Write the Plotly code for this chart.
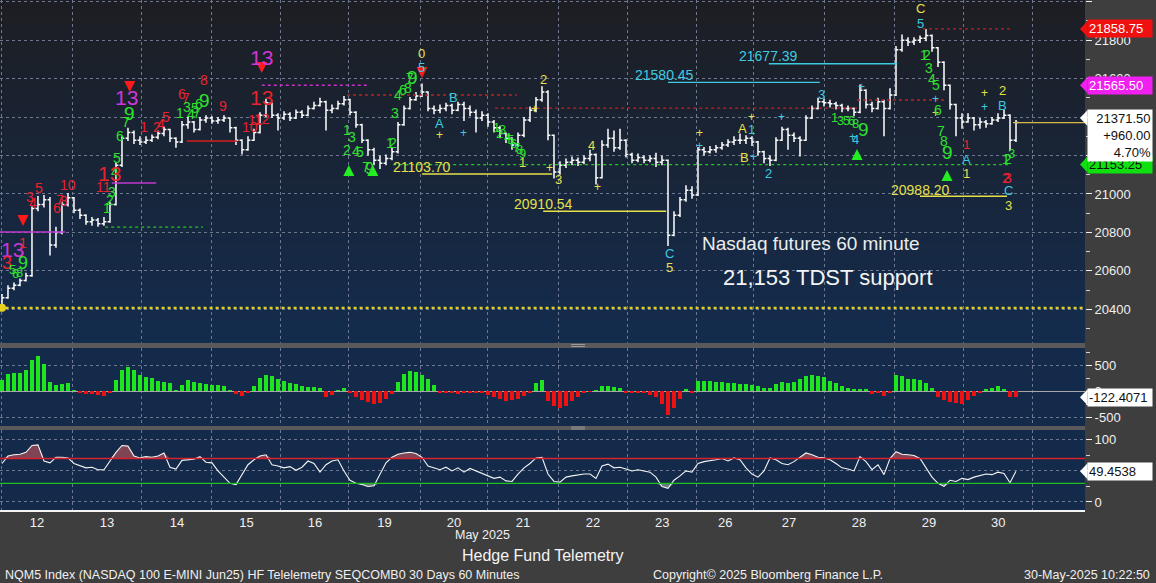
import plotly.graph_objects as go

# ------------------------------------------------------------------ data
# hourly bars of NQM5 (sampled), read off the chart
bar_close = [20460, 20510, 20525, 20550, 20575, 20925, 20945, 20970, 20735, 20800,
             20945, 20980, 20915, 20890, 20855, 20865, 20845, 20855, 20945, 21150,
             21290, 21320, 21280, 21270, 21280, 21295, 21315, 21335, 21290, 21270,
             21360, 21375, 21335, 21385, 21395, 21380, 21385, 21395, 21345, 21280,
             21230, 21280, 21320, 21410, 21475, 21410, 21395, 21415, 21395, 21425,
             21410, 21445, 21460, 21480, 21435, 21445, 21470, 21490, 21425, 21360,
             21280, 21230, 21175, 21160, 21185, 21220, 21360, 21445, 21490, 21510,
             21530, 21445, 21435, 21445, 21460, 21435, 21465, 21445, 21425, 21395,
             21410, 21375, 21345, 21315, 21290, 21255, 21305, 21385, 21435, 21490,
             21530, 21305, 21115, 21150, 21165, 21175, 21165, 21185, 21205, 21085,
             21255, 21290, 21240, 21280, 21205, 21175, 21190, 21175, 21185, 21165,
             21175, 20785, 20890, 20970, 21020, 20995, 21230, 21220, 21230, 21240,
             21255, 21270, 21280, 21280, 21290, 21270, 21220, 21185, 21175, 21280,
             21335, 21305, 21290, 21280, 21395, 21445, 21480, 21475, 21470, 21460,
             21445, 21445, 21425, 21540, 21465, 21445, 21480, 21445, 21515, 21750,
             21800, 21790, 21800, 21810, 21825, 21760, 21685, 21565, 21465, 21395,
             21375, 21395, 21360, 21375, 21365, 21385, 21395, 21410, 21280, 21371.5]
bar_high = [20480, 20525, 20540, 20560, 20590, 20935, 20990, 20995, 20985, 20830,
            20960, 21005, 20985, 20925, 20895, 20880, 20875, 20880, 20960, 21165,
            21300, 21345, 21330, 21300, 21300, 21310, 21330, 21350, 21340, 21295,
            21380, 21400, 21380, 21400, 21410, 21405, 21400, 21410, 21395, 21350,
            21285, 21300, 21340, 21425, 21495, 21475, 21420, 21430, 21425, 21440,
            21435, 21460, 21480, 21500, 21485, 21465, 21485, 21510, 21495, 21430,
            21365, 21285, 21240, 21200, 21205, 21240, 21375, 21460, 21505, 21530,
            21575, 21535, 21460, 21465, 21475, 21470, 21480, 21480, 21460, 21440,
            21430, 21420, 21385, 21355, 21320, 21295, 21320, 21400, 21455, 21505,
            21560, 21540, 21310, 21170, 21185, 21195, 21190, 21200, 21230, 21210,
            21280, 21340, 21330, 21340, 21285, 21215, 21210, 21200, 21200, 21215,
            21200, 21180, 20910, 20985, 21045, 21040, 21245, 21245, 21250, 21255,
            21270, 21285, 21300, 21315, 21305, 21300, 21275, 21225, 21200, 21295,
            21350, 21345, 21320, 21300, 21410, 21460, 21500, 21495, 21490, 21480,
            21470, 21460, 21450, 21570, 21545, 21480, 21500, 21490, 21550, 21770,
            21830, 21815, 21815, 21825, 21858.75, 21830, 21765, 21690, 21570, 21470,
            21420, 21420, 21400, 21395, 21385, 21400, 21420, 21440, 21415, 21385]
bar_low = [20405, 20455, 20500, 20520, 20545, 20570, 20910, 20930, 20680, 20720,
           20790, 20935, 20900, 20870, 20840, 20835, 20830, 20835, 20850, 20940,
           21140, 21275, 21260, 21255, 21260, 21270, 21285, 21300, 21270, 21240,
           21265, 21340, 21320, 21330, 21370, 21365, 21365, 21375, 21320, 21255,
           21205, 21225, 21275, 21315, 21400, 21395, 21330, 21385, 21380, 21390,
           21395, 21405, 21440, 21455, 21330, 21420, 21440, 21460, 21410, 21345,
           21265, 21200, 21150, 21130, 21150, 21175, 21210, 21355, 21440, 21485,
           21505, 21430, 21415, 21420, 21430, 21415, 21430, 21380, 21405, 21320,
           21380, 21350, 21320, 21290, 21265, 21230, 21245, 21295, 21375, 21425,
           21480, 21280, 21080, 21100, 21135, 21150, 21145, 21155, 21170, 21050,
           21080, 21240, 21220, 21230, 21190, 21160, 21165, 21160, 21165, 21140,
           21150, 20730, 20780, 20880, 20960, 20975, 20990, 21200, 21210, 21215,
           21230, 21245, 21255, 21260, 21260, 21250, 21200, 21160, 21145, 21170,
           21275, 21230, 21270, 21195, 21275, 21390, 21440, 21455, 21450, 21440,
           21425, 21430, 21405, 21420, 21445, 21425, 21440, 21300, 21440, 21510,
           21740, 21770, 21775, 21785, 21795, 21740, 21660, 21540, 21440, 21300,
           21340, 21370, 21330, 21340, 21345, 21360, 21375, 21390, 21225, 21270]
first_open = 20420

# momentum histogram (middle panel)
momentum = [215, 330, 350, 350, 400, 590, 670, 520, 180, 120,
            140, 150, 5, -30, -50, -60, -70, -90, -40, 215,
            400, 470, 400, 305, 275, 245, 185, 165, 150, 10,
            120, 215, 180, 150, 130, 120, 110, 100, 5, -60,
            -90, -40, 90, 245, 305, 280, 240, 200, 160, 140,
            90, 80, 70, 60, -120, -80, 10, 60, -40, -110,
            -170, -215, -245, -230, -150, -60, 180, 330, 380, 360,
            310, 240, 120, -20, -30, -40, -50, -40, -30, -20,
            -40, -80, -120, -160, -185, -180, -150, -100, -40, 150,
            215, -200, -290, -335, -280, -200, -110, -30, -10, 10,
            90, 100, 80, 60, -20, -30, -20, -40, -70, -120,
            -250, -460, -320, -150, 40, -30, 200, 200, 195, 180,
            170, 160, 150, 140, 130, 110, 90, 60, 60, 140,
            165, 150, 180, 230, 280, 305, 290, 260, 200, 150,
            100, 50, 30, 40, 20, -60, -40, -100, -40, 300,
            280, 240, 230, 220, 160, 60, -120, -180, -220, -225,
            -245, -180, -100, -40, 20, 50, 90, 40, -115, -122.4071]

# oscillator (bottom panel)
oscillator = [62, 74, 76, 77, 80, 91, 92, 66, 63, 72,
              72, 71, 62, 58, 55, 56, 52, 52, 66, 80,
              91, 90, 74, 71, 73, 72, 74, 79, 56, 53,
              67, 68, 69, 73, 64, 63, 50, 40, 30, 28,
              45, 60, 68, 74, 76, 60, 58, 55, 57, 51,
              56, 66, 62, 48, 60, 66, 68, 50, 35, 30,
              28, 25, 26, 45, 63, 72, 77, 79, 80, 78,
              72, 58, 55, 52, 56, 50, 55, 48, 54, 50,
              45, 42, 38, 40, 34, 33, 45, 55, 62, 71,
              72, 45, 33, 32, 40, 42, 44, 45, 45, 38,
              58, 61, 55, 56, 53, 50, 52, 50, 48, 40,
              25, 22, 35, 42, 50, 48, 62, 65, 66, 68,
              70, 66, 71, 68, 55, 45, 40, 50, 71, 68,
              62, 60, 65, 72, 79, 76, 72, 71, 68, 62,
              55, 53, 50, 73, 65, 52, 60, 44, 70, 81,
              77, 76, 75, 70, 55, 40, 30, 25, 35, 33,
              38, 36, 40, 42, 45, 44, 48, 46, 31, 49.4538]
osc_upper, osc_lower = 70, 30

# sessions
day_labels = ["12", "13", "14", "15", "16", "19", "20", "21", "22", "23",
              "26", "27", "28", "29", "30"]
day_start_bar = [0, 11.67, 23.33, 35, 46.5, 57.8, 69.7, 81, 92.7, 104.3,
                 115.8, 125.3, 137, 148.7, 160.3, 171.8]

# horizontal study levels: value, first bar, last bar
level_value = [20408, 20828, 20802, 21057, 21276, 21565.5, 21515, 21447, 21489,
               21858.75, 21580.45, 21677.39, 21103.70, 20910.54, 20988.20, 21153.25, 21371.5]
level_from = [-0.4, 17.2, -0.4, 18.3, 30.8, 43.3, 57.5, 82.2, 142.5,
              153.5, 111.0, 127.8, 70.0, 90.2, 153.0, 65.2, 168.5]
level_to = [180.5, 33.5, 10.5, 25.7, 39.2, 61.0, 85.8, 142.5, 157.5,
            168.0, 136.3, 149.2, 91.7, 110.7, 167.5, 167.7, 180.5]
level_kind = ["ydot", "gdot", "msol", "msol", "rsol", "mdot", "rdot", "rdot", "rdot",
              "rdot", "csol", "csol", "ysol", "ysol", "ysol", "gdot", "last"]

# labelled levels
level_label_text = ["21103.70", "20910.54", "21580.45", "21677.39", "20988.20"]
level_label_bar = [70.0, 90.2, 110.5, 127.8, 153.0]
level_label_price = [21140, 20948, 21619, 21718, 21021]
level_label_kind = ["y", "y", "c", "c", "y"]

# TD sequential / wave counts: text, colour group, bar, price, size
td_marks = [
    ("13", "m", 1.7, 20710, 21), ("3", "r", 0.8, 20641, 18), ("9", "g", 3.5, 20641, 18),
    ("5", "g", 1.7, 20605, 13), ("6", "g", 2.3, 20589, 13), ("8", "g", 3.0, 20594, 13),
    ("1", "r", 3.5, 20745, 14), ("3", "r", 4.7, 20984, 14), ("4", "r", 5.2, 20953, 14), ("5", "r", 6.2, 21031, 14),
    ("6", "r", 9.2, 20927, 14), ("7", "r", 9.7, 20969, 14), ("8", "r", 10.3, 20964, 14), ("10", "r", 11.0, 21047, 14),
    ("1", "g", 17.5, 20927, 14), ("2", "g", 18.0, 20969, 14), ("3", "g", 18.3, 21010, 14),
    ("4", "g", 18.8, 21114, 14), ("5", "g", 19.2, 21187, 14),
    ("13", "r", 18.0, 21109, 21), ("11", "r", 17.0, 21036, 14),
    ("13", "m", 20.8, 21504, 21), ("9", "g", 21.2, 21421, 19), ("7", "g", 20.7, 21374, 14), ("6", "g", 19.7, 21302, 14),
    ("1", "r", 23.7, 21348, 14), ("2", "r", 25.8, 21348, 14), ("4", "r", 26.5, 21364, 14), ("5", "r", 27.3, 21400, 14),
    ("6", "r", 30.0, 21520, 14), ("7", "r", 30.7, 21499, 14), ("8", "r", 33.7, 21593, 14), ("9", "r", 36.8, 21458, 14),
    ("9", "g", 33.7, 21484, 19), ("1", "g", 29.7, 21421, 14), ("3", "g", 30.8, 21452, 14), ("4", "g", 31.5, 21416, 14),
    ("5", "g", 32.2, 21447, 14), ("6", "g", 32.8, 21468, 14), ("7", "g", 32.5, 21421, 14),
    ("10", "r", 41.3, 21348, 14), ("11", "r", 42.2, 21385, 14), ("12", "r", 43.3, 21390, 14),
    ("13", "r", 43.3, 21504, 21), ("13", "m", 43.3, 21712, 21),
    ("1", "g", 57.5, 21333, 14), ("3", "g", 58.3, 21296, 14), ("2", "g", 57.5, 21229, 14),
    ("4", "g", 59.0, 21224, 14), ("5", "g", 59.7, 21218, 14),
    ("7", "g", 60.7, 21140, 14), ("9", "g", 61.3, 21135, 16),
    ("1", "g", 64.7, 21265, 14), ("2", "g", 65.2, 21265, 14), ("3", "g", 65.5, 21421, 14), ("4", "g", 66.0, 21515, 14),
    ("6", "g", 66.8, 21541, 14), ("8", "g", 67.7, 21551, 14), ("7", "g", 68.0, 21603, 14), ("9", "g", 68.5, 21608, 19),
    ("0", "y", 70.0, 21733, 13), ("5", "c", 70.0, 21660, 13),
    ("A", "c", 73.0, 21369, 13), ("+", "y", 73.0, 21307, 12), ("B", "c", 75.3, 21504, 13), ("+", "c", 77.0, 21317, 12),
    ("1", "g", 82.5, 21348, 13), ("2", "g", 83.0, 21317, 13), ("3", "g", 83.5, 21333, 13), ("4", "g", 84.2, 21296, 13),
    ("5", "g", 84.7, 21281, 13), ("6", "g", 85.2, 21265, 13), ("7", "g", 85.8, 21244, 13), ("8", "g", 86.2, 21229, 13),
    ("9", "g", 86.7, 21213, 13),
    ("1", "y", 86.7, 21166, 13), ("2", "y", 90.2, 21593, 13), ("+", "y", 88.7, 21442, 12), ("+", "y", 91.2, 21135, 12),
    ("3", "y", 92.7, 21078, 13), ("4", "y", 98.2, 21250, 13), ("+", "y", 99.2, 21036, 12),
    ("C", "c", 111.2, 20693, 13), ("5", "y", 111.2, 20620, 13),
    ("+", "y", 116.3, 21317, 12), ("+", "c", 116.3, 21250, 12),
    ("A", "y", 123.5, 21343, 13), ("+", "y", 125.0, 21400, 12), ("1", "c", 125.0, 21333, 13), ("B", "y", 123.8, 21192, 13),
    ("+", "c", 125.3, 21192, 12), ("2", "c", 127.8, 21109, 13), ("+", "c", 130.0, 21400, 12),
    ("3", "c", 136.5, 21515, 13),
    ("1", "g", 138.8, 21400, 13), ("3", "g", 139.7, 21380, 13), ("5", "g", 140.7, 21380, 13), ("6", "g", 141.5, 21380, 13),
    ("8", "g", 142.3, 21369, 13), ("9", "g", 143.5, 21333, 19),
    ("+", "c", 141.7, 21296, 12), ("4", "c", 142.3, 21286, 13), ("+", "c", 143.2, 21556, 12),
    ("C", "y", 153.0, 21967, 13), ("5", "c", 153.0, 21889, 13),
    ("1", "g", 153.6, 21723, 14), ("2", "g", 154.1, 21723, 14), ("3", "g", 154.5, 21655, 14), ("4", "g", 155.0, 21598, 14),
    ("5", "g", 155.7, 21567, 14),
    ("+", "c", 155.5, 21494, 12), ("+", "y", 155.5, 21421, 12), ("6", "g", 156.0, 21437, 14), ("7", "g", 156.5, 21328, 14),
    ("8", "g", 157.0, 21276, 14), ("9", "g", 157.5, 21218, 19),
    ("1", "r", 160.8, 21260, 13), ("A", "c", 160.8, 21182, 13), ("1", "y", 160.8, 21109, 13),
    ("+", "y", 163.8, 21525, 12), ("+", "c", 163.8, 21452, 12), ("2", "y", 166.7, 21536, 13), ("B", "c", 166.7, 21458, 13),
    ("1", "g", 167.3, 21182, 14), ("2", "g", 167.7, 21182, 14), ("3", "g", 168.2, 21213, 13),
    ("2", "r", 167.3, 21083, 14), ("3", "r", 167.7, 21083, 14),
    ("C", "c", 167.7, 21016, 13), ("3", "y", 167.7, 20938, 13),
]
arrow_bar = [3.5, 21.3, 43.3, 70.0, 57.8, 61.8, 142.5, 157.5]
arrow_price = [20834, 21530, 21629, 21603, 21151, 21151, 21234, 21125]
arrow_dir = ["down", "down", "down", "down", "up", "up", "up", "up"]

# ------------------------------------------------------------------ style
W, H = 1156, 583
FONT = "Liberation Sans"
COL = {"r": "#e8232d", "g": "#2ee02e", "m": "#cf37d6", "y": "#e6e04a", "c": "#3ecbe0"}
LEVEL_STYLE = {
    "ydot": ("#e6d21e", "dot", 2.2), "gdot": ("#25c425", "dot", 1.3), "msol": ("#c238d0", "solid", 1.4),
    "rsol": ("#d41e1e", "solid", 1.4), "mdot": ("#cc30cc", "dot", 1.3), "rdot": ("#c81e1e", "dot", 1.3),
    "csol": ("#3ecbe0", "solid", 1.4), "ysol": ("#e6e04a", "solid", 1.4), "last": ("#d8b848", "solid", 1.2),
}

def px_x(p):
    return p / W

def px_y(p):
    return 1 - p / H

X_RIGHT = px_x(1085)
DOM_MAIN = [px_y(343), 1.0]
DOM_HIST = [px_y(426), px_y(348)]
DOM_OSC = [px_y(510), px_y(430)]
X_RANGE = [-0.33, 180.5]
Y_MAIN = [20225, 22009]
Y_HIST = [-673, 827]
Y_OSC = [-13, 116]
GRID = "#6d7890"
GDASH = "3px,3px"

n = len(bar_close)
bars = list(range(n))
bar_open = [first_open] + bar_close[:-1]

fig = go.Figure()

# price bars
fig.add_trace(go.Ohlc(x=bars, open=bar_open, high=bar_high, low=bar_low, close=bar_close,
                      increasing=dict(line=dict(color="#ffffff", width=1.5)),
                      decreasing=dict(line=dict(color="#ffffff", width=1.5)),
                      tickwidth=0.4, hoverinfo="skip", xaxis="x", yaxis="y"))

# study levels
for v, a, b, kind in zip(level_value, level_from, level_to, level_kind):
    c, d, w = LEVEL_STYLE[kind]
    fig.add_trace(go.Scatter(x=[a, b], y=[v, v], mode="lines", line=dict(color=c, dash=d, width=w),
                             hoverinfo="skip", xaxis="x", yaxis="y"))

# start dot on the dotted yellow level
fig.add_trace(go.Scatter(x=[bars[0]], y=[level_value[0]], mode="markers",
                         marker=dict(color="#e6d21e", size=8), hoverinfo="skip", xaxis="x", yaxis="y"))

# arrows
for dname, col in (("down", "#ff1a1a"), ("up", "#22ee22")):
    xs = [b for b, d in zip(arrow_bar, arrow_dir) if d == dname]
    ys = [p for p, d in zip(arrow_price, arrow_dir) if d == dname]
    fig.add_trace(go.Scatter(x=xs, y=ys, mode="markers",
                             marker=dict(symbol="arrow-" + dname, color=col, size=11,
                                         line=dict(width=0)),
                             hoverinfo="skip", xaxis="x", yaxis="y"))

# momentum histogram
fig.add_trace(go.Bar(x=bars, y=momentum,
                     marker=dict(color=["#1ee61e" if v >= 0 else "#ee1212" for v in momentum], line=dict(width=0)),
                     width=0.58, hoverinfo="skip", xaxis="x2", yaxis="y2"))

# oscillator with overbought / oversold fills
fig.add_trace(go.Scatter(x=bars, y=[osc_upper] * n, mode="lines", line=dict(width=0),
                         hoverinfo="skip", xaxis="x3", yaxis="y3"))
fig.add_trace(go.Scatter(x=bars, y=[max(v, osc_upper) for v in oscillator], mode="lines", line=dict(width=0),
                         fill="tonexty", fillcolor="rgba(140,72,86,0.9)", hoverinfo="skip", xaxis="x3", yaxis="y3"))
fig.add_trace(go.Scatter(x=bars, y=[osc_lower] * n, mode="lines", line=dict(width=0),
                         hoverinfo="skip", xaxis="x3", yaxis="y3"))
fig.add_trace(go.Scatter(x=bars, y=[min(v, osc_lower) for v in oscillator], mode="lines", line=dict(width=0),
                         fill="tonexty", fillcolor="rgba(130,150,140,0.75)", hoverinfo="skip", xaxis="x3", yaxis="y3"))
fig.add_trace(go.Scatter(x=bars, y=oscillator, mode="lines", line=dict(color="#f4f4f4", width=1.1),
                         hoverinfo="skip", xaxis="x3", yaxis="y3"))

# ------------------------------------------------------------------ backgrounds
shapes = []
NB = 48
top_c, bot_c = (29, 30, 35), (19, 44, 78)
for i in range(NB):
    t = i / (NB - 1)
    c = tuple(round(bot_c[j] + (top_c[j] - bot_c[j]) * t) for j in range(3))
    y0 = DOM_MAIN[0] + (DOM_MAIN[1] - DOM_MAIN[0]) * i / NB
    y1 = DOM_MAIN[0] + (DOM_MAIN[1] - DOM_MAIN[0]) * (i + 1) / NB + 0.001
    shapes.append(dict(type="rect", xref="paper", yref="paper", x0=0, x1=X_RIGHT, y0=y0, y1=min(y1, 1.0),
                       fillcolor="rgb(%d,%d,%d)" % c, line=dict(width=0), layer="below"))
for dom in (DOM_HIST, DOM_OSC):
    shapes.append(dict(type="rect", xref="paper", yref="paper", x0=0, x1=X_RIGHT, y0=dom[0], y1=dom[1],
                       fillcolor="#132a4a", line=dict(width=0), layer="below"))
# panel separators
for a, b in ((343, 348), (426, 430)):
    shapes.append(dict(type="rect", xref="paper", yref="paper", x0=0, x1=X_RIGHT, y0=px_y(b), y1=px_y(a),
                       fillcolor="#5a5a5a", line=dict(width=0), layer="below"))
    for dy in (-1.0, 1.0):
        yy = px_y((a + b) / 2 + dy)
        shapes.append(dict(type="line", xref="paper", yref="paper", x0=px_x(571), x1=px_x(585), y0=yy, y1=yy,
                           line=dict(color="#9a9a9a", width=1)))
# oscillator reference lines
shapes.append(dict(type="line", xref="x3 domain", yref="y3", x0=0, x1=1, y0=osc_upper, y1=osc_upper,
                   line=dict(color="#d8202e", width=1.6)))
shapes.append(dict(type="line", xref="x3 domain", yref="y3", x0=0, x1=1, y0=osc_lower, y1=osc_lower,
                   line=dict(color="#1fbf1f", width=1.3)))

# ------------------------------------------------------------------ annotations
ann = []
for txt, g, b, p, s in td_marks:
    ann.append(dict(x=b, y=p, xref="x", yref="y", text=txt, showarrow=False,
                    font=dict(family=FONT, size=s, color=COL[g]), xanchor="center", yanchor="middle"))
for txt, b, p, g in zip(level_label_text, level_label_bar, level_label_price, level_label_kind):
    ann.append(dict(x=b, y=p, xref="x", yref="y", text=txt, showarrow=False,
                    font=dict(family=FONT, size=14, color=COL[g]), xanchor="center", yanchor="middle"))

ann.append(dict(x=px_x(811), y=px_y(243), xref="paper", yref="paper", text="Nasdaq futures 60 minute",
                showarrow=False, font=dict(family=FONT, size=19, color="#ececec"), xanchor="center", yanchor="middle"))
ann.append(dict(x=px_x(828), y=px_y(277), xref="paper", yref="paper", text="21,153 TDST support",
                showarrow=False, font=dict(family=FONT, size=22, color="#f4f4f4"), xanchor="center", yanchor="middle"))

# right-axis value boxes with a pointed left edge
BOX_X = px_x(1087)
TIP_X = px_x(1080)

def box(yref, y, text, bg, fg, yanchor="middle", align="left"):
    return dict(x=BOX_X, y=y, xref="paper", yref=yref, text=text, showarrow=False, xanchor="left", yanchor=yanchor,
                bgcolor=bg, font=dict(family=FONT, size=13, color=fg), align=align, width=62, borderpad=1)

def tip(yref, y, rng, dom, bg, half_px=8):
    units_per_px = (rng[1] - rng[0]) / ((dom[1] - dom[0]) * H)
    hh = half_px * units_per_px
    path = "M %f,%f L %f,%f L %f,%f Z" % (TIP_X, y, BOX_X + 0.0005, y + hh, BOX_X + 0.0005, y - hh)
    return dict(type="path", xref="paper", yref=yref, path=path, fillcolor=bg, line=dict(width=0), layer="above")

shapes.append(tip("y", 21858.75, Y_MAIN, DOM_MAIN, "#f01010"))
shapes.append(tip("y", 21565.5, Y_MAIN, DOM_MAIN, "#f020f0"))
shapes.append(tip("y", 21153.25, Y_MAIN, DOM_MAIN, "#10e010"))
shapes.append(tip("y", 21395, Y_MAIN, DOM_MAIN, "#ffffff"))
shapes.append(tip("y2", momentum[-1], Y_HIST, DOM_HIST, "#ffffff"))
shapes.append(tip("y3", oscillator[-1], Y_OSC, DOM_OSC, "#ffffff"))

ann.append(box("y", 21858.75, "21858.75", "#f01010", "white"))
ann.append(box("y", 21565.5, "21565.50", "#f020f0", "white"))
ann.append(box("y", 21153.25, "21153.25", "#10e010", "#101010"))
ann.append(box("y", 21440, "21371.50<br>+960.00<br>4.70%", "white", "#101010", yanchor="top", align="right"))
ann.append(box("y2", momentum[-1], "-122.4071", "white", "#101010"))
ann.append(box("y3", oscillator[-1], "49.4538", "white", "#101010"))

# footer
foot = dict(family=FONT, size=12.5, color="#f0f0f0")
ann.append(dict(x=px_x(482), y=px_y(535), xref="paper", yref="paper", text="May 2025", showarrow=False,
                font=foot, xanchor="center", yanchor="middle"))
ann.append(dict(x=px_x(543), y=px_y(555), xref="paper", yref="paper", text="Hedge Fund Telemetry", showarrow=False,
                font=dict(family=FONT, size=16, color="#f4f4f4"), xanchor="center", yanchor="middle"))
ann.append(dict(x=px_x(3), y=px_y(575), xref="paper", yref="paper",
                text="NQM5 Index (NASDAQ 100 E-MINI Jun25) HF Telelemetry SEQCOMB0 30 Days 60 Minutes",
                showarrow=False, font=foot, xanchor="left", yanchor="middle"))
ann.append(dict(x=px_x(651), y=px_y(575), xref="paper", yref="paper", text="Copyright© 2025 Bloomberg Finance L.P.",
                showarrow=False, font=foot, xanchor="left", yanchor="middle"))
ann.append(dict(x=px_x(1152), y=px_y(575), xref="paper", yref="paper", text="30-May-2025 10:22:50",
                showarrow=False, font=foot, xanchor="right", yanchor="middle"))

# ------------------------------------------------------------------ axes
day_mid = [(a + b) / 2 for a, b in zip(day_start_bar[:-1], day_start_bar[1:])]
minor_x = dict(tickmode="array", tickvals=day_start_bar, showgrid=True, gridcolor=GRID, griddash=GDASH,
               gridwidth=1, ticks="")
xcommon = dict(domain=[0, X_RIGHT], range=X_RANGE, showgrid=False, zeroline=False, minor=minor_x,
               fixedrange=True)
tickfont = dict(family=FONT, size=13, color="#f0f0f0")

main_ticks = list(range(20400, 22001, 200))
hidden_main = {21200, 21400, 22000}   # covered by the value boxes / cut at the top
fig.update_layout(
    width=W, height=H, margin=dict(l=0, r=0, t=0, b=0),
    paper_bgcolor="#3e3e3e", plot_bgcolor="rgba(0,0,0,0)", showlegend=False,
    font=dict(family=FONT, color="#f0f0f0"),
    bargap=0,
    xaxis=dict(anchor="y", showticklabels=False, rangeslider=dict(visible=False), **xcommon),
    xaxis2=dict(anchor="y2", matches="x", showticklabels=False, **xcommon),
    xaxis3=dict(anchor="y3", matches="x", tickmode="array", tickvals=day_mid, ticktext=day_labels,
                ticks="", tickfont=tickfont, showline=True, linecolor="#f4f4f4", linewidth=1.5, **xcommon),
    yaxis=dict(domain=DOM_MAIN, anchor="x", side="right", range=Y_MAIN, tickmode="array",
               tickvals=main_ticks, ticktext=["" if v in hidden_main else str(v) for v in main_ticks],
               ticks="outside", ticklen=6, tickcolor="#f0f0f0", tickfont=tickfont,
               showgrid=True, gridcolor=GRID, griddash=GDASH, zeroline=False,
               minor=dict(dtick=100, tick0=0, ticks="outside", ticklen=4, tickcolor="#d0d0d0", showgrid=False)),
    yaxis2=dict(domain=DOM_HIST, anchor="x2", side="right", range=Y_HIST, tickmode="array",
                tickvals=[-500, 0, 500], ticktext=["-500", "0", "500"], ticks="outside", ticklen=6,
                tickcolor="#f0f0f0", tickfont=tickfont, showgrid=True, gridcolor=GRID, griddash=GDASH,
                zeroline=True, zerolinecolor="#a8a8a8", zerolinewidth=1,
                minor=dict(tickmode="array", tickvals=[-250, 250, 750], ticks="outside", ticklen=4,
                           tickcolor="#d0d0d0", showgrid=False)),
    yaxis3=dict(domain=DOM_OSC, anchor="x3", side="right", range=Y_OSC, tickmode="array",
                tickvals=[0, 50, 100], ticktext=["0", "", "100"], ticks="outside", ticklen=6,
                tickcolor="#f0f0f0", tickfont=tickfont, showgrid=True, gridcolor=GRID, griddash=GDASH,
                zeroline=False,
                minor=dict(tickmode="array", tickvals=[25, 75], ticks="outside", ticklen=4,
                           tickcolor="#d0d0d0", showgrid=False)),
    shapes=shapes, annotations=ann,
)

fig.write_html("out.html", config={"displayModeBar": False},
               post_script="document.body.style.margin='0';document.body.style.background='#3e3e3e';")
